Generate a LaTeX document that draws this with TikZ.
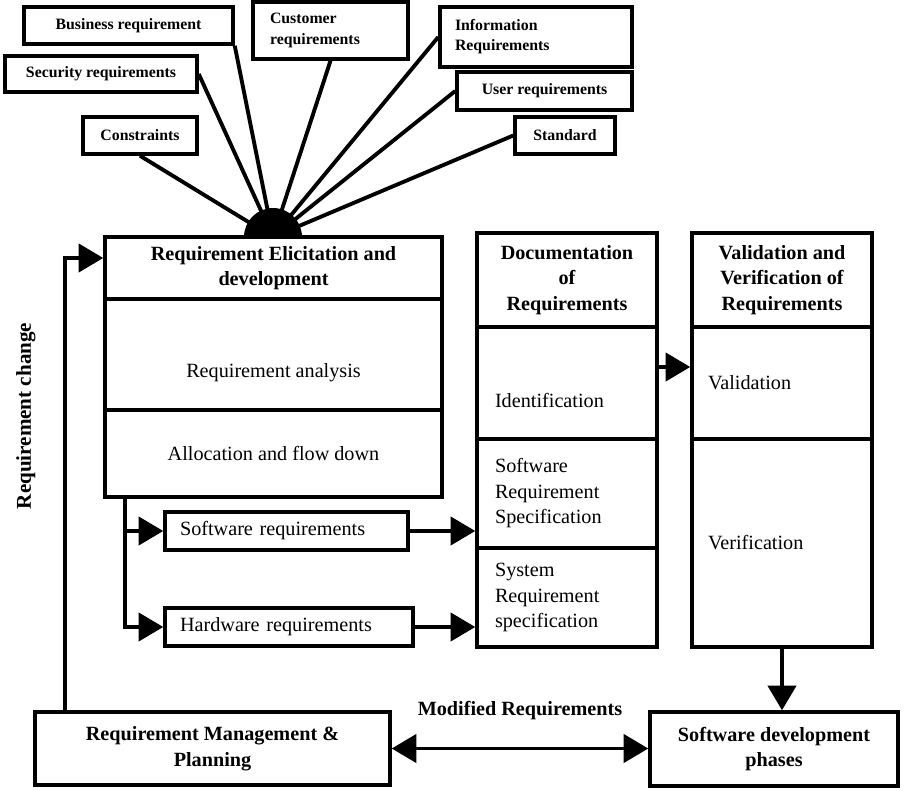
\documentclass[tikz,border=0pt]{standalone}
\usepackage{fontspec}
\setmainfont{Liberation Serif}
\usetikzlibrary{arrows.meta}

\begin{document}
\begin{tikzpicture}[x=0.02cm, y=-0.02cm,
  every node/.style={font=\fontsize{11.5}{14.5}\selectfont},
  box/.style={draw, rectangle, line width=2pt, fill=white, inner sep=2pt},
  srcbox/.style={box, align=left, font=\fontsize{9}{11.5}\selectfont\bfseries},
  head/.style={box, align=center, font=\fontsize{11.5}{14.5}\selectfont\bfseries},
  part/.style={box, align=left},
  spoke/.style={line width=2.2pt},
  arr/.style={line width=2.2pt, -{Triangle[length=14pt, width=16pt]}},
]
\useasboundingbox (0,0) rectangle (913,791);

% Sources of requirements
\node[srcbox, minimum width=4.18cm, minimum height=0.74cm] (biz) at (128.5,25.5) {Business requirement};
\node[srcbox, text width=2.42cm, minimum width=3.1cm, minimum height=1.14cm] (cust) at (330.5,30.5) {Customer\\requirements};
\node[srcbox, minimum width=3.84cm, minimum height=0.72cm] (sec) at (101,74) {Security requirements};
\node[srcbox, minimum width=2.28cm, minimum height=0.74cm] (cons) at (140,135.5) {Constraints};
\node[srcbox, text width=3.24cm, minimum width=3.84cm, minimum height=1.2cm] (info) at (536,37) {Information\\Requirements};
\node[srcbox, minimum width=3.5cm, minimum height=0.76cm] (user) at (544.5,91) {User requirements};
\node[srcbox, minimum width=2.0cm, minimum height=0.74cm] (std) at (565,135.5) {Standard};

% Elicitation and development
\node[head, minimum width=6.74cm, minimum height=1.24cm] (elic) at (273.5,268) {Requirement Elicitation and\\development};
\node[box, align=center, minimum width=6.74cm, minimum height=2.22cm] (anal) at (273.5,354.5) {\mbox{}\\[14pt]Requirement analysis};
\node[box, minimum width=6.74cm, minimum height=1.74cm] (alloc) at (273.5,453.5) {Allocation and flow down};

% Documentation
\node[head, minimum width=3.6cm, minimum height=1.88cm] (doc) at (567,280) {Documentation\\of\\Requirements};
\node[part, text width=2.88cm, minimum width=3.6cm, minimum height=2.24cm] (ident) at (567,383) {\mbox{}\\[14pt]Identification};
\node[part, text width=2.88cm, minimum width=3.6cm, minimum height=2.18cm] (srs) at (567,493.5) {Software\\Requirement\\Specification};
\node[part, text width=2.88cm, minimum width=3.6cm, minimum height=1.98cm] (sysrs) at (567,597.5) {System\\Requirement\\specification};

% Validation and verification
\node[head, minimum width=3.6cm, minimum height=1.88cm] (vv) at (782,280) {Validation and\\Verification of\\Requirements};
\node[part, text width=2.96cm, minimum width=3.6cm, minimum height=2.24cm] (valid) at (782,383) {Validation};
\node[part, text width=2.96cm, minimum width=3.6cm, minimum height=4.16cm] (verif) at (782,543) {Verification};

% Allocated requirements
\node[part, text width=4.26cm, minimum width=4.86cm, minimum height=0.76cm] (swr) at (286.5,531) {Software requirements};
\node[part, text width=4.36cm, minimum width=4.96cm, minimum height=0.76cm] (hwr) at (289,627) {Hardware requirements};

% Management and development phases
\node[head, minimum width=7.1cm, minimum height=1.46cm] (mgmt) at (212.5,748.5) {Requirement Management \&\\Planning};
\node[head, minimum width=4.96cm, minimum height=1.48cm] (sdp) at (774,749) {Software development\\phases};

% Spokes into the hub
\coordinate (hub) at (273,237);
\foreach \src/\anc in {cons/south, sec/east, biz/south east, cust/south, info/west, user/west, std/west}
  \draw[spoke] (\src.\anc) -- (hub);
\fill ([xshift=-0.58cm]hub) arc[start angle=180, end angle=0, radius=0.58cm] -- cycle;

% Requirement change loop
\coordinate (chg) at (65,258);
\draw[arr] (chg |- mgmt.north) -- (chg) -- (chg -| elic.west);
\node[rotate=90, font=\fontsize{12}{14}\selectfont\bfseries] (chglbl) at (26,416) {Requirement change};

% Flow down
\coordinate (fork) at (125,0);
\draw[arr] (fork |- alloc.south) |- (hwr.west);
\draw[arr] (fork |- swr.west) -- (swr.west);
\draw[arr] (swr.east) -- (swr.east -| srs.west);
\draw[arr] (hwr.east) -- (hwr.east -| sysrs.west);

% Documentation to V&V, then development
\draw[arr] ([yshift=0.32cm]ident.east) -- ([yshift=0.32cm]valid.west);
\draw[arr] (verif.south) -- (verif.south |- sdp.north);

% Modified requirements
\draw[arr, {Triangle[length=14pt, width=16pt]}-{Triangle[length=14pt, width=16pt]}] (mgmt.east) -- (mgmt.east -| sdp.west)
  node[midway, above=12pt, font=\fontsize{11.5}{14}\selectfont\bfseries] (modlbl) {Modified Requirements};
\end{tikzpicture}
\end{document}
